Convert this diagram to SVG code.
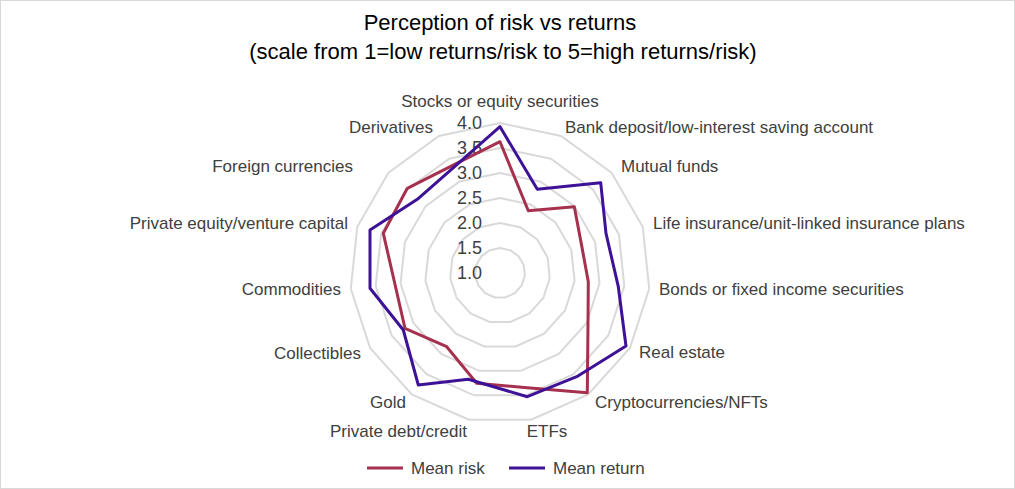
<svg xmlns="http://www.w3.org/2000/svg" width="1015" height="489" viewBox="0 0 1015 489">
<style>
text{font-family:"Liberation Sans",Arial,sans-serif;fill:#404040}
.cat{font-size:17px}
.tick{font-size:18px;text-anchor:end}
.ring{fill:none;stroke:#d9d9d9;stroke-width:2}
.risk{fill:none;stroke:#A5314F;stroke-width:3;stroke-linejoin:round}
.ret{fill:none;stroke:#3D1297;stroke-width:3;stroke-linejoin:round}
</style>
<rect x="0.5" y="0.5" width="1014" height="488" fill="#fff" stroke="#d9d9d9"/>
<text x="500" y="30" font-size="22" text-anchor="middle" style="fill:#000">Perception of risk vs returns</text>
<text x="503" y="59" font-size="22" text-anchor="middle" style="fill:#000">(scale from 1=low returns/risk to 5=high returns/risk)</text>
<g id="grid">
<polygon class="ring" points="500,248 510.2,250.2 518.6,256.3 523.8,265.3 524.9,275.6 521.7,285.5 514.7,293.2 505.2,297.5 494.8,297.5 485.3,293.2 478.3,285.5 475.1,275.6 476.2,265.3 481.4,256.3 489.8,250.2"/>
<polygon class="ring" points="500,223 520.3,227.3 537.2,239.5 547.6,257.5 549.7,278.2 543.3,298 529.4,313.5 510.4,321.9 489.6,321.9 470.6,313.5 456.7,298 450.3,278.2 452.4,257.5 462.8,239.5 479.7,227.3"/>
<polygon class="ring" points="500,198 530.5,204.5 555.7,222.8 571.3,249.8 574.6,280.8 565,310.5 544.1,333.7 515.6,346.4 484.4,346.4 455.9,333.7 435,310.5 425.4,280.8 428.7,249.8 444.3,222.8 469.5,204.5"/>
<polygon class="ring" points="500,173 540.7,181.7 574.3,206.1 595.1,242.1 599.5,283.5 586.6,323 558.8,353.9 520.8,370.8 479.2,370.8 441.2,353.9 413.4,323 400.6,283.5 404.9,242.1 425.7,206.1 459.3,181.7"/>
<polygon class="ring" points="500,148 550.8,158.8 592.9,189.4 618.9,234.4 624.3,286.1 608.3,335.5 573.5,374.1 526,395.3 474,395.3 426.5,374.1 391.7,335.5 375.7,286.1 381.1,234.4 407.1,189.4 449.2,158.8"/>
<polygon class="ring" points="500,123 561,136 611.5,172.6 642.7,226.7 649.2,288.7 629.9,348 588.2,394.4 531.2,419.7 468.8,419.7 411.8,394.4 370.1,348 350.8,288.7 357.3,226.7 388.5,172.6 439,136"/>
</g>
<g id="ticks">
<text class="tick" x="482" y="279">1.0</text>
<text class="tick" x="482" y="254">1.5</text>
<text class="tick" x="482" y="229">2.0</text>
<text class="tick" x="482" y="204">2.5</text>
<text class="tick" x="482" y="179">3.0</text>
<text class="tick" x="482" y="154">3.5</text>
<text class="tick" x="482" y="129">4.0</text>
</g>
<g id="connectors">
<polygon id="series-risk" class="risk" points="500,141.7 528.3,210.7 574.3,206.7 581.8,246.4 588.3,281.7 588,323.8 587.3,392.7 524.3,387.4 476.7,383.3 446.7,346.7 405,328.3 394.9,284 383.3,233.3 407.3,188.3 452.2,165.7"/>
<polygon id="series-return" class="ret" points="500,126.7 537.3,189.3 600.7,182.7 606,233.3 618.3,286.7 626,346 576.7,376.7 527.3,396.7 468.3,379.3 418.3,385 403.3,330 370,288.3 370,230 417.3,199.3 453.2,167.9"/>
</g>
<g id="labels">
<text id="n0" x="500" y="107" text-anchor="middle" class="cat">Stocks or equity securities</text>
<text id="n1" x="565" y="133" class="cat">Bank deposit/low-interest saving account</text>
<text id="n2" x="621" y="172" class="cat">Mutual funds</text>
<text id="n3" x="653" y="229" class="cat">Life insurance/unit-linked insurance plans</text>
<text id="n4" x="659" y="295" class="cat">Bonds or fixed income securities</text>
<text id="n5" x="639" y="358" class="cat">Real estate</text>
<text id="n6" x="595" y="408" class="cat">Cryptocurrencies/NFTs</text>
<text id="n7" x="547" y="437" text-anchor="middle" class="cat">ETFs</text>
<text id="n8" x="467" y="437" text-anchor="end" class="cat">Private debt/credit</text>
<text id="n9" x="406" y="408" text-anchor="end" class="cat">Gold</text>
<text id="n10" x="361" y="359" text-anchor="end" class="cat">Collectibles</text>
<text id="n11" x="341" y="295" text-anchor="end" class="cat">Commodities</text>
<text id="n12" x="348" y="229" text-anchor="end" class="cat">Private equity/venture capital</text>
<text id="n13" x="353" y="172" text-anchor="end" class="cat">Foreign currencies</text>
<text id="n14" x="433" y="133" text-anchor="end" class="cat">Derivatives</text>
</g>
<g id="legend">
<line x1="367" y1="468" x2="403" y2="468" class="risk"/>
<text x="411" y="474" class="cat">Mean risk</text>
<line x1="509" y1="468" x2="545" y2="468" class="ret"/>
<text x="553" y="474" class="cat">Mean return</text>
</g>
</svg>
